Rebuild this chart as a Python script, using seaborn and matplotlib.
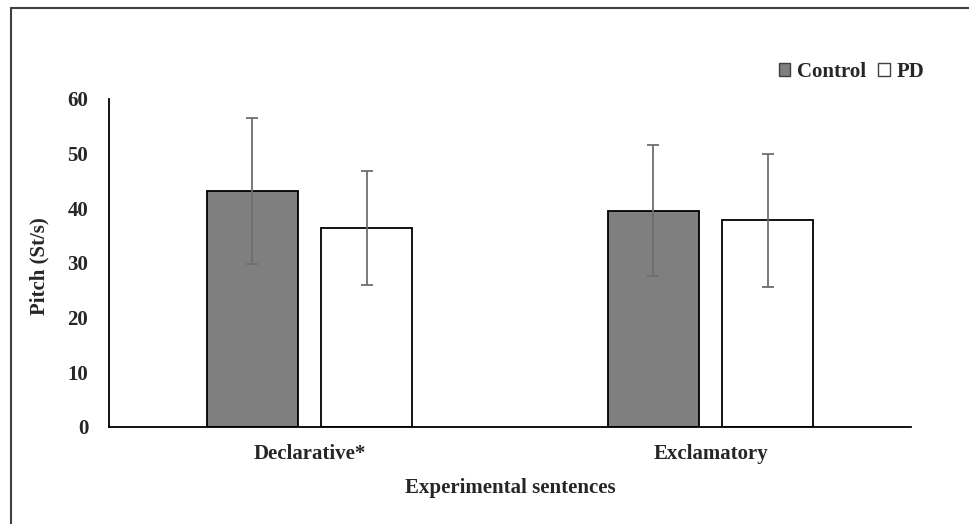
import numpy as np
import pandas as pd
import matplotlib
matplotlib.use("Agg")
import matplotlib.pyplot as plt
import seaborn as sns
from matplotlib.patches import Patch
from matplotlib.lines import Line2D

# datos
sentences = ["Declarative*", "Exclamatory"]
groups = ["Control", "PD"]
control_mean = [43.2, 39.6]
control_sd = [13.3, 11.9]
pd_mean = [36.4, 37.8]
pd_sd = [10.5, 12.2]
y_ticks = [0, 10, 20, 30, 40, 50, 60]

df = pd.DataFrame({
    "sentence": sentences * 2,
    "group": [groups[0]] * 2 + [groups[1]] * 2,
    "pitch": control_mean + pd_mean,
    "sd": control_sd + pd_sd,
})

sns.set_theme(style="white")
plt.rcParams["font.family"] = ["Liberation Serif", "DejaVu Serif"]
plt.rcParams["font.weight"] = "bold"

fig = plt.figure(figsize=(9.69, 5.24), dpi=100)
ax = fig.add_axes([109 / 969, 97 / 524, 802 / 969, 328 / 524])

colores = {"Control": "#7f7f7f", "PD": "#ffffff"}
sns.barplot(data=df, x="sentence", y="pitch", hue="group", order=sentences,
            hue_order=groups, palette=colores, width=0.57, gap=0.21,
            errorbar=None, edgecolor="black", linewidth=1.3, legend=False, ax=ax)

# barras de error
for cont, g in zip(ax.containers, groups):
    sub = df[df["group"] == g].set_index("sentence").loc[sentences]
    xs = [b.get_x() + b.get_width() / 2 for b in cont]
    ax.errorbar(xs, sub["pitch"], yerr=sub["sd"], fmt="none", ecolor="#6e6e6e",
                elinewidth=1.3, capsize=4, capthick=1.3)

ax.set_xlim(-0.5, 1.5)
ax.set_ylim(0, 60)
ax.set_yticks(y_ticks)
ax.tick_params(axis="both", labelsize=15, length=0)
ax.tick_params(axis="x", pad=12.5)
ax.tick_params(axis="y", pad=15)
for lab in ax.get_xticklabels() + ax.get_yticklabels():
    lab.set_fontweight("bold")
ax.set_xlabel("Experimental sentences", fontsize=15, fontweight="bold", labelpad=10)
ax.set_ylabel("Pitch (St/s)", fontsize=15, fontweight="bold")
ax.yaxis.set_label_coords(-0.074, 0.49)

sns.despine(ax=ax)
for s in ["left", "bottom"]:
    ax.spines[s].set_color("black")
    ax.spines[s].set_linewidth(1.3)
ax.grid(False)

handles = [Patch(facecolor="#7f7f7f", edgecolor="#404040", linewidth=1),
           Patch(facecolor="white", edgecolor="#404040", linewidth=1)]
fig.legend(handles=handles, labels=groups, loc="center right",
           bbox_to_anchor=(935 / 969, 1 - 72 / 524), ncol=2, frameon=False,
           prop={"family": "Liberation Serif", "weight": "bold", "size": 15},
           handlelength=0.55, handleheight=0.55, handletextpad=0.35,
           columnspacing=0.55, borderpad=0)

# marco de la imagen
fig.add_artist(Line2D([11 / 969, 11 / 969], [0, 1 - 8 / 524], color="#404040",
                      linewidth=1.5, transform=fig.transFigure))
fig.add_artist(Line2D([11 / 969, 1], [1 - 8 / 524, 1 - 8 / 524], color="#404040",
                      linewidth=1.5, transform=fig.transFigure))

fig.savefig("out.png", dpi=100)
